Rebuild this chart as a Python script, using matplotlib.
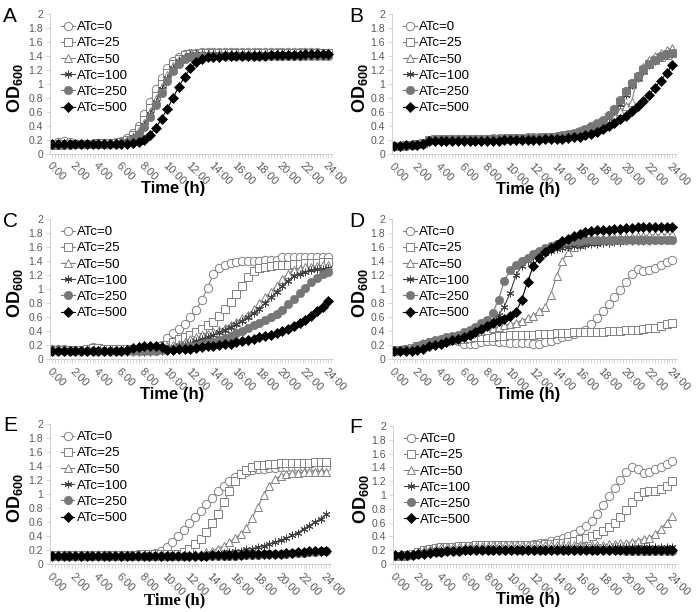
import numpy as np
import matplotlib
matplotlib.use('Agg')
import matplotlib.pyplot as plt

plt.rcParams['font.family'] = ['Liberation Sans', 'DejaVu Sans']
plt.rcParams['mathtext.fontset'] = 'custom'
plt.rcParams['mathtext.rm'] = 'Liberation Sans'
plt.rcParams['mathtext.bf'] = 'Liberation Sans:bold'

# time points (h), one reading every 30 min
hours = np.arange(49) * 0.5

# ---- panel A ----
A_0 = [0.13, 0.16, 0.18, 0.17, 0.14, 0.14, 0.14, 0.14, 0.15, 0.15, 0.15, 0.16,
       0.18, 0.22, 0.30, 0.40, 0.56, 0.74, 0.92, 1.08, 1.22, 1.32, 1.39, 1.42,
       1.44, 1.44, 1.45, 1.45, 1.45, 1.45, 1.45, 1.45, 1.45, 1.45, 1.45, 1.45,
       1.45, 1.45, 1.45, 1.45, 1.45, 1.45, 1.45, 1.45, 1.45, 1.45, 1.45, 1.44,
       1.44]
A_25 = [0.12, 0.13, 0.14, 0.14, 0.14, 0.14, 0.14, 0.14, 0.15, 0.15, 0.15, 0.15,
        0.17, 0.20, 0.26, 0.35, 0.48, 0.65, 0.83, 1.00, 1.15, 1.28, 1.36, 1.41,
        1.43, 1.43, 1.44, 1.44, 1.44, 1.44, 1.44, 1.44, 1.44, 1.44, 1.44, 1.44,
        1.44, 1.44, 1.44, 1.44, 1.44, 1.44, 1.44, 1.44, 1.44, 1.44, 1.44, 1.44,
        1.44]
A_50 = [0.12, 0.12, 0.13, 0.13, 0.13, 0.13, 0.14, 0.14, 0.14, 0.14, 0.15, 0.15,
        0.16, 0.19, 0.24, 0.32, 0.44, 0.60, 0.78, 0.96, 1.12, 1.25, 1.34, 1.39,
        1.42, 1.43, 1.43, 1.43, 1.43, 1.43, 1.43, 1.43, 1.43, 1.43, 1.43, 1.43,
        1.43, 1.43, 1.43, 1.43, 1.43, 1.43, 1.43, 1.43, 1.43, 1.43, 1.43, 1.43,
        1.43]
A_100 = [0.12, 0.12, 0.12, 0.12, 0.13, 0.13, 0.13, 0.13, 0.14, 0.14, 0.14, 0.14,
         0.15, 0.18, 0.23, 0.30, 0.41, 0.56, 0.74, 0.92, 1.08, 1.22, 1.32, 1.38,
         1.41, 1.42, 1.42, 1.42, 1.42, 1.42, 1.42, 1.42, 1.42, 1.42, 1.42, 1.42,
         1.42, 1.42, 1.42, 1.42, 1.42, 1.42, 1.42, 1.42, 1.42, 1.42, 1.42, 1.42,
         1.42]
A_250 = [0.12, 0.12, 0.12, 0.12, 0.13, 0.13, 0.13, 0.13, 0.13, 0.14, 0.14, 0.14,
         0.15, 0.17, 0.21, 0.28, 0.38, 0.52, 0.69, 0.87, 1.04, 1.18, 1.29, 1.36,
         1.39, 1.40, 1.40, 1.40, 1.40, 1.40, 1.40, 1.40, 1.40, 1.40, 1.40, 1.40,
         1.40, 1.40, 1.40, 1.40, 1.40, 1.40, 1.40, 1.40, 1.40, 1.40, 1.40, 1.40,
         1.40]
A_500 = [0.13, 0.13, 0.13, 0.13, 0.13, 0.13, 0.13, 0.13, 0.13, 0.13, 0.13, 0.13,
         0.13, 0.14, 0.15, 0.17, 0.20, 0.27, 0.37, 0.50, 0.64, 0.80, 0.96, 1.10,
         1.22, 1.31, 1.36, 1.38, 1.39, 1.39, 1.40, 1.40, 1.40, 1.40, 1.40, 1.40,
         1.40, 1.40, 1.41, 1.41, 1.41, 1.41, 1.41, 1.41, 1.42, 1.42, 1.42, 1.42,
         1.42]

# ---- panel B ----
B_0 = [0.11, 0.12, 0.12, 0.13, 0.14, 0.15, 0.19, 0.20, 0.20, 0.20, 0.21, 0.21,
       0.21, 0.21, 0.21, 0.22, 0.22, 0.22, 0.22, 0.22, 0.22, 0.22, 0.22, 0.23,
       0.23, 0.23, 0.23, 0.24, 0.24, 0.25, 0.26, 0.28, 0.30, 0.33, 0.36, 0.40,
       0.46, 0.54, 0.64, 0.76, 0.90, 1.02, 1.12, 1.22, 1.30, 1.36, 1.40, 1.43,
       1.46]
B_25 = [0.12, 0.12, 0.13, 0.13, 0.14, 0.16, 0.20, 0.21, 0.21, 0.21, 0.21, 0.21,
        0.21, 0.22, 0.22, 0.22, 0.22, 0.22, 0.22, 0.22, 0.23, 0.23, 0.23, 0.23,
        0.23, 0.23, 0.24, 0.24, 0.25, 0.26, 0.27, 0.29, 0.31, 0.34, 0.37, 0.41,
        0.46, 0.53, 0.62, 0.74, 0.88, 1.00, 1.10, 1.20, 1.28, 1.34, 1.39, 1.42,
        1.44]
B_50 = [0.12, 0.12, 0.13, 0.13, 0.14, 0.16, 0.20, 0.21, 0.21, 0.21, 0.21, 0.21,
        0.21, 0.21, 0.22, 0.22, 0.22, 0.22, 0.22, 0.22, 0.22, 0.23, 0.23, 0.23,
        0.23, 0.23, 0.23, 0.24, 0.24, 0.25, 0.26, 0.28, 0.30, 0.32, 0.35, 0.39,
        0.44, 0.50, 0.55, 0.62, 0.68, 0.75, 1.12, 1.25, 1.34, 1.40, 1.45, 1.49,
        1.52]
B_100 = [0.11, 0.12, 0.12, 0.13, 0.14, 0.15, 0.19, 0.20, 0.20, 0.20, 0.20, 0.21,
         0.21, 0.21, 0.21, 0.21, 0.21, 0.22, 0.22, 0.22, 0.22, 0.22, 0.22, 0.22,
         0.23, 0.23, 0.23, 0.23, 0.24, 0.25, 0.26, 0.28, 0.30, 0.33, 0.36, 0.40,
         0.45, 0.52, 0.61, 0.72, 0.85, 0.98, 1.09, 1.19, 1.27, 1.33, 1.38, 1.41,
         1.43]
B_250 = [0.12, 0.12, 0.13, 0.13, 0.14, 0.16, 0.20, 0.21, 0.21, 0.21, 0.22, 0.22,
         0.22, 0.22, 0.22, 0.22, 0.22, 0.23, 0.23, 0.23, 0.23, 0.23, 0.23, 0.24,
         0.24, 0.24, 0.24, 0.25, 0.26, 0.27, 0.28, 0.30, 0.33, 0.36, 0.40, 0.44,
         0.49, 0.56, 0.65, 0.77, 0.90, 1.02, 1.12, 1.21, 1.29, 1.35, 1.40, 1.43,
         1.45]
B_500 = [0.12, 0.12, 0.13, 0.13, 0.13, 0.14, 0.19, 0.19, 0.18, 0.18, 0.18, 0.18,
         0.18, 0.19, 0.19, 0.19, 0.19, 0.19, 0.19, 0.20, 0.20, 0.20, 0.20, 0.20,
         0.20, 0.20, 0.21, 0.21, 0.21, 0.22, 0.23, 0.24, 0.25, 0.27, 0.29, 0.32,
         0.36, 0.40, 0.45, 0.50, 0.55, 0.61, 0.68, 0.76, 0.85, 0.95, 1.05, 1.16,
         1.27]

# ---- panel C ----
C_0 = [0.14, 0.14, 0.14, 0.13, 0.13, 0.13, 0.15, 0.17, 0.16, 0.14, 0.14, 0.14,
       0.14, 0.14, 0.14, 0.15, 0.15, 0.16, 0.17, 0.20, 0.30, 0.37, 0.43, 0.50,
       0.60, 0.70, 0.85, 1.01, 1.22, 1.30, 1.35, 1.37, 1.39, 1.40, 1.40, 1.40,
       1.40, 1.41, 1.41, 1.41, 1.46, 1.46, 1.46, 1.46, 1.46, 1.46, 1.46, 1.46,
       1.46]
C_25 = [0.13, 0.13, 0.13, 0.13, 0.13, 0.13, 0.14, 0.16, 0.16, 0.15, 0.14, 0.14,
        0.14, 0.14, 0.14, 0.14, 0.15, 0.15, 0.16, 0.18, 0.20, 0.24, 0.28, 0.31,
        0.35, 0.39, 0.43, 0.48, 0.53, 0.62, 0.72, 0.82, 0.93, 1.05, 1.17, 1.26,
        1.30, 1.32, 1.33, 1.34, 1.35, 1.35, 1.36, 1.36, 1.37, 1.37, 1.37, 1.38,
        1.38]
C_50 = [0.13, 0.13, 0.13, 0.13, 0.13, 0.13, 0.13, 0.13, 0.13, 0.13, 0.13, 0.13,
        0.13, 0.13, 0.13, 0.14, 0.14, 0.14, 0.15, 0.16, 0.18, 0.20, 0.22, 0.25,
        0.28, 0.31, 0.34, 0.36, 0.38, 0.41, 0.45, 0.49, 0.53, 0.58, 0.63, 0.71,
        0.80, 0.88, 0.96, 1.05, 1.15, 1.22, 1.27, 1.29, 1.31, 1.32, 1.33, 1.34,
        1.35]
C_100 = [0.12, 0.12, 0.12, 0.12, 0.12, 0.12, 0.11, 0.11, 0.11, 0.11, 0.11, 0.11,
         0.11, 0.10, 0.10, 0.10, 0.10, 0.10, 0.11, 0.12, 0.14, 0.16, 0.18, 0.20,
         0.23, 0.26, 0.29, 0.32, 0.35, 0.38, 0.42, 0.46, 0.50, 0.55, 0.60, 0.66,
         0.72, 0.80, 0.88, 0.96, 1.05, 1.12, 1.18, 1.22, 1.25, 1.27, 1.28, 1.29,
         1.30]
C_250 = [0.12, 0.12, 0.12, 0.12, 0.12, 0.12, 0.12, 0.12, 0.12, 0.12, 0.12, 0.12,
         0.12, 0.12, 0.12, 0.12, 0.12, 0.12, 0.12, 0.13, 0.14, 0.15, 0.16, 0.17,
         0.18, 0.19, 0.21, 0.23, 0.25, 0.27, 0.30, 0.33, 0.37, 0.40, 0.44, 0.48,
         0.52, 0.56, 0.60, 0.65, 0.70, 0.78, 0.86, 0.94, 1.02, 1.10, 1.16, 1.21,
         1.24]
C_500 = [0.12, 0.12, 0.12, 0.12, 0.12, 0.12, 0.12, 0.12, 0.12, 0.12, 0.12, 0.12,
         0.12, 0.13, 0.16, 0.17, 0.18, 0.19, 0.19, 0.17, 0.13, 0.13, 0.14, 0.14,
         0.15, 0.16, 0.17, 0.18, 0.19, 0.20, 0.21, 0.22, 0.24, 0.26, 0.27, 0.29,
         0.31, 0.33, 0.35, 0.37, 0.40, 0.43, 0.47, 0.51, 0.56, 0.62, 0.68, 0.75,
         0.83]

# ---- panel D ----
D_0 = [0.12, 0.13, 0.14, 0.16, 0.19, 0.22, 0.24, 0.25, 0.26, 0.27, 0.27, 0.26,
       0.22, 0.21, 0.22, 0.24, 0.26, 0.26, 0.25, 0.24, 0.23, 0.23, 0.23, 0.23,
       0.22, 0.22, 0.24, 0.26, 0.28, 0.31, 0.33, 0.36, 0.38, 0.42, 0.50, 0.58,
       0.68, 0.78, 0.88, 0.98, 1.10, 1.22, 1.28, 1.26, 1.27, 1.30, 1.34, 1.38,
       1.42]
D_25 = [0.12, 0.13, 0.14, 0.16, 0.18, 0.20, 0.22, 0.24, 0.25, 0.26, 0.27, 0.28,
        0.29, 0.30, 0.31, 0.31, 0.32, 0.32, 0.33, 0.33, 0.34, 0.34, 0.35, 0.35,
        0.35, 0.36, 0.36, 0.36, 0.37, 0.37, 0.37, 0.38, 0.38, 0.38, 0.39, 0.39,
        0.39, 0.40, 0.40, 0.40, 0.41, 0.41, 0.42, 0.43, 0.44, 0.45, 0.47, 0.50,
        0.52]
D_50 = [0.12, 0.13, 0.14, 0.16, 0.19, 0.23, 0.25, 0.26, 0.27, 0.28, 0.30, 0.32,
        0.34, 0.36, 0.38, 0.40, 0.42, 0.44, 0.46, 0.48, 0.50, 0.52, 0.55, 0.58,
        0.62, 0.68, 0.75, 0.92, 1.18, 1.40, 1.53, 1.60, 1.64, 1.67, 1.69, 1.70,
        1.72, 1.73, 1.74, 1.74, 1.75, 1.75, 1.76, 1.76, 1.77, 1.77, 1.78, 1.78,
        1.78]
D_100 = [0.12, 0.12, 0.13, 0.14, 0.16, 0.19, 0.22, 0.24, 0.26, 0.28, 0.30, 0.32,
         0.35, 0.38, 0.41, 0.45, 0.50, 0.56, 0.63, 0.75, 0.95, 1.20, 1.33, 1.40,
         1.46, 1.49, 1.52, 1.55, 1.57, 1.59, 1.60, 1.61, 1.62, 1.63, 1.64, 1.65,
         1.66, 1.66, 1.67, 1.67, 1.68, 1.68, 1.69, 1.69, 1.69, 1.70, 1.70, 1.70,
         1.70]
D_250 = [0.13, 0.13, 0.14, 0.15, 0.18, 0.21, 0.24, 0.27, 0.29, 0.31, 0.33, 0.35,
         0.38, 0.42, 0.46, 0.51, 0.56, 0.66, 0.85, 1.12, 1.27, 1.34, 1.40, 1.45,
         1.50, 1.54, 1.58, 1.62, 1.65, 1.67, 1.68, 1.69, 1.69, 1.70, 1.70, 1.70,
         1.70, 1.70, 1.70, 1.70, 1.70, 1.70, 1.70, 1.70, 1.70, 1.70, 1.70, 1.70,
         1.70]
D_500 = [0.12, 0.12, 0.12, 0.12, 0.13, 0.15, 0.18, 0.20, 0.22, 0.24, 0.27, 0.29,
         0.32, 0.35, 0.39, 0.43, 0.47, 0.51, 0.54, 0.57, 0.61, 0.67, 0.85, 1.10,
         1.33, 1.45, 1.53, 1.59, 1.63, 1.68, 1.72, 1.76, 1.79, 1.81, 1.83, 1.84,
         1.85, 1.85, 1.86, 1.86, 1.87, 1.87, 1.88, 1.88, 1.88, 1.88, 1.89, 1.89,
         1.89]

# ---- panel E ----
E_0 = [0.13, 0.13, 0.13, 0.13, 0.13, 0.13, 0.13, 0.13, 0.13, 0.13, 0.13, 0.13,
       0.13, 0.13, 0.13, 0.14, 0.14, 0.15, 0.16, 0.18, 0.25, 0.32, 0.40, 0.48,
       0.58, 0.67, 0.76, 0.86, 0.95, 1.04, 1.12, 1.19, 1.25, 1.29, 1.32, 1.34,
       1.36, 1.36, 1.37, 1.37, 1.38, 1.38, 1.38, 1.38, 1.38, 1.38, 1.38, 1.38,
       1.38]
E_25 = [0.13, 0.13, 0.13, 0.13, 0.13, 0.13, 0.13, 0.13, 0.13, 0.13, 0.13, 0.13,
        0.13, 0.13, 0.13, 0.13, 0.14, 0.14, 0.14, 0.14, 0.14, 0.14, 0.15, 0.17,
        0.22, 0.28, 0.36, 0.46, 0.58, 0.72, 0.88, 1.04, 1.18, 1.28, 1.35, 1.39,
        1.41, 1.42, 1.43, 1.43, 1.44, 1.44, 1.45, 1.45, 1.45, 1.45, 1.46, 1.46,
        1.46]
E_50 = [0.12, 0.12, 0.12, 0.12, 0.12, 0.12, 0.12, 0.12, 0.12, 0.12, 0.12, 0.12,
        0.12, 0.12, 0.12, 0.12, 0.12, 0.12, 0.12, 0.12, 0.12, 0.12, 0.12, 0.12,
        0.13, 0.14, 0.15, 0.17, 0.19, 0.22, 0.26, 0.31, 0.37, 0.43, 0.52, 0.66,
        0.82, 0.98, 1.12, 1.21, 1.26, 1.28, 1.30, 1.30, 1.31, 1.31, 1.32, 1.32,
        1.32]
E_100 = [0.12, 0.12, 0.12, 0.12, 0.12, 0.12, 0.12, 0.12, 0.12, 0.12, 0.12, 0.12,
         0.12, 0.12, 0.12, 0.12, 0.12, 0.12, 0.12, 0.12, 0.12, 0.12, 0.12, 0.12,
         0.12, 0.12, 0.13, 0.13, 0.14, 0.15, 0.16, 0.17, 0.18, 0.19, 0.21, 0.22,
         0.24, 0.26, 0.29, 0.31, 0.34, 0.37, 0.41, 0.45, 0.50, 0.55, 0.60, 0.65,
         0.71]
E_250 = [0.11, 0.11, 0.11, 0.11, 0.11, 0.11, 0.11, 0.11, 0.11, 0.11, 0.11, 0.11,
         0.11, 0.11, 0.11, 0.11, 0.11, 0.11, 0.11, 0.11, 0.11, 0.11, 0.11, 0.11,
         0.11, 0.11, 0.11, 0.12, 0.12, 0.12, 0.12, 0.12, 0.12, 0.13, 0.13, 0.13,
         0.13, 0.14, 0.14, 0.14, 0.15, 0.15, 0.16, 0.16, 0.16, 0.17, 0.17, 0.18,
         0.18]
E_500 = [0.12, 0.12, 0.12, 0.12, 0.12, 0.12, 0.12, 0.12, 0.12, 0.12, 0.12, 0.12,
         0.12, 0.12, 0.12, 0.12, 0.12, 0.12, 0.12, 0.12, 0.12, 0.12, 0.12, 0.12,
         0.12, 0.12, 0.12, 0.12, 0.13, 0.13, 0.13, 0.13, 0.13, 0.13, 0.14, 0.14,
         0.14, 0.14, 0.15, 0.15, 0.15, 0.16, 0.16, 0.17, 0.17, 0.18, 0.18, 0.19,
         0.19]

# ---- panel F ----
F_0 = [0.12, 0.12, 0.13, 0.14, 0.17, 0.20, 0.22, 0.23, 0.24, 0.25, 0.25, 0.26,
       0.26, 0.26, 0.27, 0.27, 0.27, 0.27, 0.28, 0.28, 0.28, 0.28, 0.28, 0.28,
       0.29, 0.30, 0.31, 0.33, 0.35, 0.37, 0.40, 0.44, 0.49, 0.55, 0.63, 0.73,
       0.85, 0.98, 1.10, 1.22, 1.33, 1.40, 1.38, 1.32, 1.34, 1.37, 1.40, 1.45,
       1.50]
F_25 = [0.12, 0.12, 0.13, 0.14, 0.17, 0.20, 0.22, 0.23, 0.24, 0.25, 0.25, 0.26,
        0.26, 0.26, 0.27, 0.27, 0.27, 0.27, 0.27, 0.28, 0.28, 0.28, 0.28, 0.28,
        0.28, 0.28, 0.29, 0.29, 0.30, 0.31, 0.32, 0.34, 0.36, 0.38, 0.41, 0.44,
        0.48, 0.53, 0.60, 0.68, 0.78, 0.90, 0.99, 1.04, 1.06, 1.06, 1.08, 1.13,
        1.20]
F_50 = [0.12, 0.12, 0.13, 0.14, 0.17, 0.20, 0.22, 0.23, 0.24, 0.24, 0.25, 0.25,
        0.25, 0.26, 0.26, 0.26, 0.26, 0.27, 0.27, 0.27, 0.27, 0.27, 0.27, 0.27,
        0.27, 0.27, 0.27, 0.27, 0.27, 0.27, 0.27, 0.27, 0.27, 0.28, 0.28, 0.28,
        0.28, 0.29, 0.29, 0.30, 0.31, 0.32, 0.34, 0.36, 0.38, 0.43, 0.51, 0.60,
        0.70]
F_100 = [0.12, 0.12, 0.12, 0.13, 0.16, 0.18, 0.19, 0.20, 0.20, 0.21, 0.21, 0.21,
         0.22, 0.22, 0.22, 0.22, 0.22, 0.22, 0.22, 0.22, 0.22, 0.22, 0.22, 0.22,
         0.22, 0.22, 0.22, 0.22, 0.23, 0.23, 0.23, 0.23, 0.23, 0.23, 0.23, 0.23,
         0.23, 0.23, 0.24, 0.24, 0.24, 0.24, 0.24, 0.24, 0.24, 0.24, 0.24, 0.24,
         0.24]
F_250 = [0.12, 0.12, 0.12, 0.13, 0.15, 0.16, 0.17, 0.18, 0.18, 0.19, 0.19, 0.19,
         0.20, 0.20, 0.20, 0.20, 0.20, 0.20, 0.20, 0.20, 0.20, 0.20, 0.20, 0.20,
         0.20, 0.20, 0.20, 0.20, 0.20, 0.20, 0.20, 0.20, 0.20, 0.20, 0.20, 0.20,
         0.20, 0.20, 0.20, 0.20, 0.19, 0.19, 0.19, 0.19, 0.19, 0.19, 0.19, 0.19,
         0.19]
F_500 = [0.13, 0.13, 0.13, 0.13, 0.14, 0.15, 0.16, 0.17, 0.18, 0.19, 0.19, 0.19,
         0.20, 0.20, 0.20, 0.20, 0.20, 0.20, 0.20, 0.20, 0.20, 0.20, 0.20, 0.20,
         0.20, 0.20, 0.20, 0.20, 0.20, 0.20, 0.20, 0.20, 0.20, 0.20, 0.20, 0.20,
         0.20, 0.20, 0.20, 0.20, 0.20, 0.20, 0.20, 0.20, 0.20, 0.20, 0.20, 0.20,
         0.20]

labels = ['ATc=0', 'ATc=25', 'ATc=50', 'ATc=100', 'ATc=250', 'ATc=500']
panels = {
    'A': [A_0, A_25, A_50, A_100, A_250, A_500],
    'B': [B_0, B_25, B_50, B_100, B_250, B_500],
    'C': [C_0, C_25, C_50, C_100, C_250, C_500],
    'D': [D_0, D_25, D_50, D_100, D_250, D_500],
    'E': [E_0, E_25, E_50, E_100, E_250, E_500],
    'F': [F_0, F_25, F_50, F_100, F_250, F_500],
}
xticks = list(range(0, 25, 2))
xticklabels = ['%d:00' % h for h in xticks]
yticks = [0, 0.2, 0.4, 0.6, 0.8, 1, 1.2, 1.4, 1.6, 1.8, 2]
yticklabels = ['0', '0.2', '0.4', '0.6', '0.8', '1', '1.2', '1.4', '1.6', '1.8', '2']

# marker style for each ATc level
gray = '#808080'
styles = [
    dict(marker='o', ms=6.0, mfc='white', mec=gray, color=gray, mew=0.7),
    dict(marker='s', ms=5.6, mfc='white', mec=gray, color=gray, mew=0.7),
    dict(marker='^', ms=6.2, mfc='white', mec=gray, color=gray, mew=0.7),
    dict(marker=(6, 2, 0), ms=5.5, mfc='#404040', mec='#404040', color='#404040', mew=0.7),
    dict(marker='o', ms=6.0, mfc='#777777', mec='#777777', color='#777777', mew=0.5),
    dict(marker='D', ms=4.6, mfc='black', mec='black', color='black', mew=0.5),
]

W, H = 699, 612
fig = plt.figure(figsize=(W / 100, H / 100), dpi=100)

# axes boxes in pixels: left, top, right, bottom
boxes = {
    'A': (50, 14, 333, 153.5), 'B': (392, 14, 677, 154),
    'C': (50, 219, 333, 359), 'D': (392, 219, 677, 359),
    'E': (50, 424, 331, 564), 'F': (393, 426, 677, 564),
}
letter_pos = {'A': (3, 7), 'B': (349, 7), 'C': (3, 212), 'D': (349, 212),
              'E': (3, 416), 'F': (349, 418)}
xlab_x = {'A': 0.435, 'B': 0.477, 'C': 0.43, 'D': 0.477, 'E': 0.445, 'F': 0.477}

for key, series in panels.items():
    l, t, r, b = boxes[key]
    ax = fig.add_axes([l / W, 1 - b / H, (r - l) / W, (b - t) / H])
    for vals, lab, st in zip(series, labels, styles):
        ax.plot(hours, vals, label=lab, lw=0.8, **st)

    ax.set_xlim(-0.2, 24.4)
    ax.set_ylim(0, 2)
    ax.set_yticks(yticks)
    ax.set_yticklabels(yticklabels)
    ax.set_xticks(xticks)
    ax.set_xticklabels(xticklabels, rotation=-45, ha='left', va='top',
                       rotation_mode='anchor')
    ax.set_xticks(np.arange(0, 24.3, 0.25), minor=True)
    ax.tick_params(axis='x', which='both', length=3, width=0.5, color='#c8c8c8',
                   labelsize=8, labelcolor='#595959', pad=2)
    ax.tick_params(axis='y', length=3, width=0.5, color='#c8c8c8',
                   labelsize=7.5, labelcolor='#595959', pad=2)
    for s in ['top', 'right']:
        ax.spines[s].set_visible(False)
    for s in ['left', 'bottom']:
        ax.spines[s].set_color('#c8c8c8')
        ax.spines[s].set_linewidth(0.6)

    ax.set_ylabel(r'$\mathbf{OD_{600}}$', fontsize=13)
    ax.yaxis.set_label_coords(-0.088 if l < 100 else -0.077, 0.47)
    if key == 'E':
        ax.set_xlabel('Time (h)', fontsize=12, fontweight='bold',
                      family='Liberation Serif')
    else:
        ax.set_xlabel('Time (h)', fontsize=12, fontweight='bold')
    ax.xaxis.set_label_coords(xlab_x[key], -0.2)

    ax.legend(loc='upper left', bbox_to_anchor=(0.04, 0.95), frameon=False,
              fontsize=9.5, handlelength=1.0, handletextpad=0.2,
              labelspacing=0.3, borderaxespad=0, borderpad=0)

    lx, ly = letter_pos[key]
    fig.text(lx / W, 1 - ly / H, key, fontsize=15, va='top', ha='left')

fig.savefig('out.png', dpi=100)
